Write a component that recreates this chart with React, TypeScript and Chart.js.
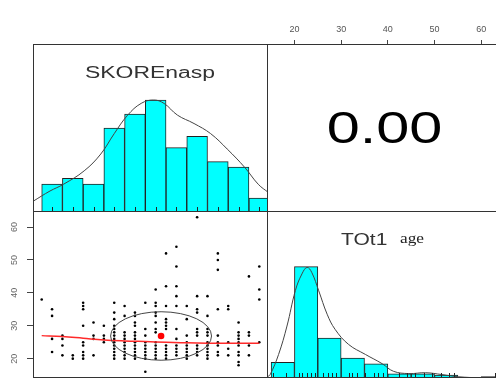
import React, { useEffect, useRef } from "react";
import { Chart, registerables } from "chart.js";

Chart.register(...registerables);

// ---------- data ----------
const skoreRange = [3.16, 25.84];
const ageRange = [14.12, 64.88];
const ageTicks = [20, 30, 40, 50, 60];
const skoreTicks = [5, 10, 15, 20, 25];

const skoreBinCenters = [5, 7, 9, 11, 13, 15, 17, 19, 21, 23, 25];
const skoreCounts = [10, 12, 10, 30, 35, 40, 23, 27, 18, 16, 5];
const skoreRug = [5, 7, 9, 11, 13, 15, 17, 19, 21, 23, 25];
const skoreDensX = [3.2, 4.8, 6.1, 8.1, 9.7, 11.0, 12.3, 13.6, 14.8, 15.8, 17.1, 18.7, 20.3, 21.9, 23.6, 24.9, 25.9];
const skoreDensY = [3.9, 7.5, 9.9, 14.7, 20.7, 28.0, 34.6, 38.8, 40.0, 38.8, 34.6, 31.6, 28.0, 22.5, 15.9, 9.9, 6.9];

const ageBinCenters = [17.5, 22.5, 27.5, 32.5, 37.5, 42.5, 47.5, 52.5, 57.5, 62.5];
const ageCounts = [11, 78, 28, 14, 10, 3, 3, 2, 0, 1];
const ageRug = [15.5, 18.2, 20.9, 21.7, 22.7, 23.5, 24.4, 26.2, 27.1, 28, 28.9, 31.6, 32.4, 33.4, 35.2, 37, 38, 38.9, 42.3, 44.1, 45.9, 47.7, 49.5, 51.3, 53, 54.1, 63];
const ageDensX = [14.2, 14.8, 16.6, 18.4, 20.2, 21.6, 22.7, 23.7, 25.2, 27.0, 28.7, 31.6, 35.2, 38.8, 41.2, 44.5, 48.1, 51.6, 55.2, 59.9, 64.8];
const ageDensY = [0.8, 2.4, 16.5, 36.4, 61.3, 72.9, 77.5, 74.0, 61.1, 44.7, 34.1, 23.5, 16.5, 10.0, 4.7, 3.1, 3.7, 2.4, 0.85, 0.15, 0];

const scatterSkore = [4, 5, 6, 7, 8, 9, 10, 11, 12, 13, 14, 15, 16, 17, 18, 19, 20, 21, 22, 23, 24, 25];
const scatterAges: number[][] = [
  [38],
  [35, 33, 26, 22],
  [27, 26, 24, 21],
  [21, 20],
  [37, 36, 35, 30, 25, 24, 22, 21, 20],
  [31, 27, 26, 21],
  [30, 27, 26, 25],
  [37, 34, 32, 30, 29, 28, 27, 26, 25, 24, 23, 22, 21, 20],
  [36, 33, 28, 27, 26, 25, 24, 23, 22, 21, 20],
  [34, 33, 31, 30, 28, 27, 26, 25, 24, 23, 22, 21, 20],
  [37, 29, 27, 25, 24, 23, 22, 21, 20, 16],
  [41, 37, 36, 34, 33, 31, 29, 28, 25, 24, 23, 22, 21, 20],
  [52, 42, 36, 32, 31, 30, 29, 24, 23, 22, 21, 20],
  [54, 48, 42, 39, 36, 29, 26, 24, 23, 22, 21],
  [36, 32, 27, 25, 24, 23, 22, 21, 20],
  [63, 39, 35, 34, 29, 28, 27, 24, 23, 22, 21],
  [39, 33, 29, 28, 27, 25, 24, 23, 22, 21, 20],
  [52, 50, 47, 35, 27, 25, 24, 22, 21],
  [36, 35, 25, 23, 21],
  [31, 28, 27, 26, 25, 24, 22, 21, 19, 18],
  [45, 28, 27, 24, 21],
  [48, 41, 38, 25],
];

const loessX = [4, 6, 8, 10, 12, 14, 16, 18, 20, 22, 25];
const loessY = [27.0, 26.7, 26.2, 25.7, 25.4, 25.2, 25.0, 24.8, 24.7, 24.7, 24.7];

const meanSkore = 15.52;
const meanAge = 26.89;
const sdSkore = 4.87;
const sdAge = 7.37;
const corrText = "0.00";

// ---------- helpers ----------
function drawFitText(ctx: CanvasRenderingContext2D, text: string, font: string, color: string, cx: number, baseline: number, width: number) {
  ctx.save();
  ctx.font = font;
  const w = ctx.measureText(text).width;
  ctx.translate(cx, baseline);
  ctx.scale(width / w, 1);
  ctx.fillStyle = color;
  ctx.textAlign = "center";
  ctx.textBaseline = "alphabetic";
  ctx.fillText(text, 0, 0);
  ctx.restore();
}

const boxPlugin = {
  id: "box",
  afterDraw(chart: any) {
    const { ctx, chartArea: a } = chart;
    ctx.save();
    ctx.strokeStyle = "#333";
    ctx.lineWidth = 1;
    ctx.strokeRect(a.left + 0.5, a.top + 0.5, a.right - a.left - 1, a.bottom - a.top - 1);
    ctx.restore();
  },
};

function rugPlugin(values: number[]) {
  return {
    id: "rug",
    afterDatasetsDraw(chart: any) {
      const { ctx, chartArea: a } = chart;
      const xs = chart.scales.x;
      ctx.save();
      ctx.strokeStyle = "#222";
      ctx.lineWidth = 1;
      ctx.beginPath();
      values.forEach((v) => {
        const px = Math.round(xs.getPixelForValue(v)) + 0.5;
        ctx.moveTo(px, a.bottom);
        ctx.lineTo(px, a.bottom - 5);
      });
      ctx.stroke();
      ctx.restore();
    },
  };
}

function fixedTicks(values: number[]) {
  return (s: any) => {
    s.ticks = values.map((v) => ({ value: v }));
  };
}

const baseOptions = {
  responsive: false,
  animation: false,
  events: [],
  layout: { padding: 0, autoPadding: false },
  plugins: { legend: { display: false }, tooltip: { enabled: false } },
};

function histConfig(centers: number[], counts: number[], densX: number[], densY: number[], range: number[], ticks: number[], rug: number[], textPlugin: any) {
  return {
    type: "bar",
    data: {
      datasets: [
        {
          type: "line",
          data: densX.map((x, i) => ({ x, y: densY[i] })),
          borderColor: "#444",
          borderWidth: 1,
          pointRadius: 0,
          tension: 0.4,
          order: 0,
        },
        {
          type: "bar",
          data: centers.map((x, i) => ({ x, y: counts[i] })),
          backgroundColor: "#00FFFF",
          borderColor: "#222",
          borderWidth: 1,
          borderSkipped: false,
          barPercentage: 1,
          categoryPercentage: 1,
          order: 1,
        },
      ],
    },
    options: {
      ...baseOptions,
      scales: {
        x: { type: "linear", offset: false, min: range[0], max: range[1], display: false, afterBuildTicks: fixedTicks(ticks) },
        y: { type: "linear", min: 0, max: 1.5 * Math.max(...counts), display: false },
      },
    },
    plugins: [rugPlugin(rug), boxPlugin, textPlugin],
  };
}

export default function App() {
  const c1 = useRef<HTMLCanvasElement>(null);
  const c2 = useRef<HTMLCanvasElement>(null);
  const c3 = useRef<HTMLCanvasElement>(null);
  const c4 = useRef<HTMLCanvasElement>(null);

  useEffect(() => {
    document.body.style.margin = "0";
    const charts: Chart[] = [];

    // top-left histogram
    const skoreTitle = {
      id: "skoreTitle",
      afterDraw(chart: any) {
        const a = chart.chartArea;
        drawFitText(chart.ctx, "SKOREnasp", '16px "Liberation Sans", Arial, sans-serif', "#333", (a.left + a.right) / 2 - 0.5, a.top + 34.3, 130);
      },
    };
    charts.push(new Chart(c1.current as any, histConfig(skoreBinCenters, skoreCounts, skoreDensX, skoreDensY, skoreRange, skoreTicks, skoreRug, skoreTitle) as any));

    // top-right correlation
    const corrPlugin = {
      id: "corr",
      afterDraw(chart: any) {
        const a = chart.chartArea;
        drawFitText(chart.ctx, corrText, '44px "Liberation Sans", Arial, sans-serif', "#000", (a.left + a.right) / 2 - 1, 143.3, 115.7);
      },
    };
    charts.push(
      new Chart(c2.current as any, {
        type: "scatter",
        data: { datasets: [] },
        options: {
          ...baseOptions,
          scales: {
            x: {
              type: "linear",
              position: "top",
              min: ageRange[0],
              max: ageRange[1],
              afterBuildTicks: fixedTicks(ageTicks),
              afterFit(s: any) {
                s.height = 44;
              },
              ticks: { font: { size: 9, family: '"Liberation Sans", Arial, sans-serif' }, color: "#555", padding: 5, maxRotation: 0, autoSkip: false },
              grid: { drawOnChartArea: false, tickLength: 4, color: "#444" },
              border: { display: false },
            },
            y: { type: "linear", display: false, min: 0, max: 1 },
          },
        } as any,
        plugins: [boxPlugin, corrPlugin],
      } as any)
    );

    // bottom-left scatter
    const points: { x: number; y: number }[] = [];
    scatterSkore.forEach((x, i) => scatterAges[i].forEach((y) => points.push({ x, y })));
    const scatterDeco = {
      id: "scatterDeco",
      afterDatasetsDraw(chart: any) {
        const { ctx } = chart;
        const xs = chart.scales.x;
        const ys = chart.scales.y;
        const cx = xs.getPixelForValue(meanSkore);
        const cy = ys.getPixelForValue(meanAge);
        const rx = Math.abs(xs.getPixelForValue(meanSkore + sdSkore) - cx);
        const ry = Math.abs(ys.getPixelForValue(meanAge + sdAge) - cy);
        ctx.save();
        ctx.strokeStyle = "#444";
        ctx.lineWidth = 1;
        ctx.beginPath();
        ctx.ellipse(cx, cy, rx, ry, 0, 0, Math.PI * 2);
        ctx.stroke();
        ctx.fillStyle = "#ff0000";
        ctx.beginPath();
        ctx.arc(cx, cy, 3.3, 0, Math.PI * 2);
        ctx.fill();
        ctx.restore();
      },
      afterDraw(chart: any) {
        const { ctx } = chart;
        const ys = chart.scales.y;
        ctx.save();
        ctx.fillStyle = "#666";
        ctx.font = '9px "Liberation Sans", Arial, sans-serif';
        ctx.textAlign = "center";
        ctx.textBaseline = "middle";
        ageTicks.forEach((v) => {
          const py = ys.getPixelForValue(v);
          ctx.save();
          ctx.translate(15, py);
          ctx.rotate(-Math.PI / 2);
          ctx.fillText(String(v), 0, 0);
          ctx.restore();
        });
        ctx.restore();
      },
    };
    charts.push(
      new Chart(c3.current as any, {
        type: "scatter",
        data: {
          datasets: [
            {
              type: "line",
              data: loessX.map((x, i) => ({ x, y: loessY[i] })),
              borderColor: "#ff2a2a",
              borderWidth: 1.5,
              pointRadius: 0,
              tension: 0.4,
              order: 0,
            },
            { data: points, pointRadius: 1.3, backgroundColor: "#000", borderWidth: 0, order: 1 },
          ],
        },
        options: {
          ...baseOptions,
          scales: {
            x: { type: "linear", offset: false, min: skoreRange[0], max: skoreRange[1], display: false, afterBuildTicks: fixedTicks(skoreTicks) },
            y: {
              type: "linear",
              position: "left",
              min: ageRange[0],
              max: ageRange[1],
              afterBuildTicks: fixedTicks(ageTicks),
              afterFit(s: any) {
                s.width = 33;
              },
              ticks: { display: false },
              grid: { drawOnChartArea: false, drawTicks: true, tickLength: 6, color: "#444" },
              border: { display: false },
            },
          },
        } as any,
        plugins: [boxPlugin, scatterDeco],
      } as any)
    );

    // bottom-right histogram
    const ageTitle = {
      id: "ageTitle",
      afterDraw(chart: any) {
        const a = chart.chartArea;
        drawFitText(chart.ctx, "TOt1", '17px "Liberation Sans", Arial, sans-serif', "#333", a.left + 97.2, a.top + 34.3, 46.3);
        drawFitText(chart.ctx, "age", '15px "Liberation Serif", "Times New Roman", serif', "#222", a.left + 145, a.top + 32, 24);
      },
    };
    charts.push(new Chart(c4.current as any, histConfig(ageBinCenters, ageCounts, ageDensX, ageDensY, ageRange, ageTicks, ageRug, ageTitle) as any));

    return () => charts.forEach((c) => c.destroy());
  }, []);

  const abs = (left: number, top: number, w: number, h: number): React.CSSProperties => ({ position: "absolute", left, top, width: w, height: h });

  return (
    <div style={{ position: "relative", width: 496, height: 378, overflow: "hidden", background: "#fff" }}>
      <canvas ref={c1} width={235} height={168} style={abs(33, 44, 235, 168)} />
      <canvas ref={c2} width={237} height={212} style={abs(267, 0, 237, 212)} />
      <canvas ref={c3} width={268} height={167} style={abs(0, 211, 268, 167)} />
      <canvas ref={c4} width={237} height={167} style={abs(267, 211, 237, 167)} />
    </div>
  );
}
